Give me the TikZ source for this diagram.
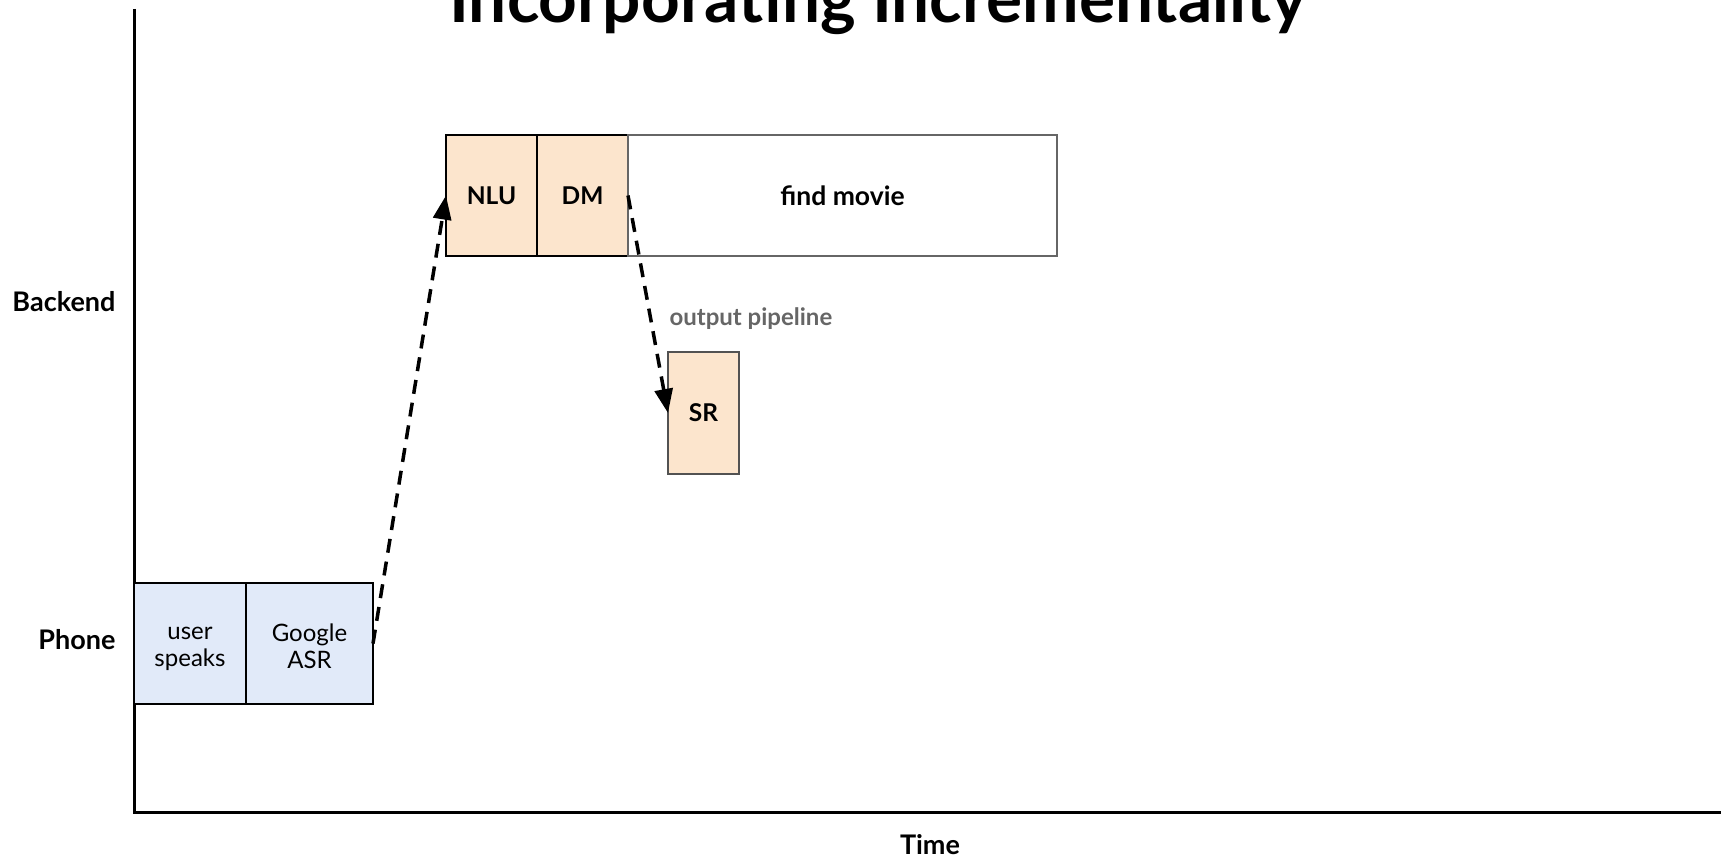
\documentclass[tikz,border=0pt]{standalone}
\usepackage{fontspec}
\setmainfont{Lato}
\usetikzlibrary{positioning,arrows.meta}
\definecolor{phoneblue}{HTML}{E1EAF9}
\definecolor{backorange}{HTML}{FCE5CD}
\definecolor{midgray}{HTML}{666666}
\newcommand{\lowstrut}{\rule{0pt}{23.5pt}}
\tikzset{>={Triangle[length=24pt,width=18pt]},
  stage/.style={draw,line width=1.5pt,outer sep=0pt,inner sep=0pt,minimum height=121pt,align=center,font=\fontsize{24}{27.5}\selectfont},
  phonebox/.style={stage,fill=phoneblue},
  backbox/.style={stage,fill=backorange,font=\fontsize{24.5}{30}\selectfont\bfseries},
  axislabel/.style={font=\fontsize{27}{32}\selectfont\bfseries},
  hop/.style={->,line width=3.5pt,dash pattern=on 14pt off 9pt}}

\begin{document}
\begin{tikzpicture}[x=1pt,y=-1pt]
  \useasboundingbox (0,0) rectangle (1721,859);
  \node[font=\fontsize{67.5}{68}\selectfont\bfseries,anchor=base] (title) at (878,23) {Incorporating Incrementality};

  \coordinate (ytop) at (134,9);
  \coordinate (origin) at (134,812);
  \coordinate (xend) at (1721,812);
  \draw[line width=3pt] (ytop) -- (origin) -- (xend);

  \node[axislabel,anchor=east] (backendlbl) at (119,302) {Backend};
  \node[axislabel,anchor=east] (phonelbl) at (119,640) {Phone};
  \node[axislabel] (timelbl) at (930,845) {Time};

  \node[phonebox,minimum width=112pt] (user) at (190,643.5) {\lowstrut user\\speaks};
  \node[phonebox,minimum width=127pt,right=0pt of user] (asr) {\lowstrut Google\\ASR};

  \node[backbox,minimum width=91pt] (nlu) at (491.5,195.5) {NLU};
  \node[backbox,minimum width=91pt,right=0pt of nlu] (dm) {DM};
  \node[stage,draw=midgray,minimum width=429pt,right=0pt of dm,font=\fontsize{26.5}{30}\selectfont\bfseries] (find) {find movie};

  \node[backbox,draw=midgray!80!black,minimum width=71pt,minimum height=122pt] (sr) at (703.5,413) {SR};
  \node[font=\fontsize{24}{28}\selectfont\bfseries,text=midgray,anchor=west] (pipeline) at (666,319) {output pipeline};

  \path
  (asr.east) edge[hop] (nlu.west)
  (dm.east) edge[hop] (sr.west)
  ;
\end{tikzpicture}
\end{document}
